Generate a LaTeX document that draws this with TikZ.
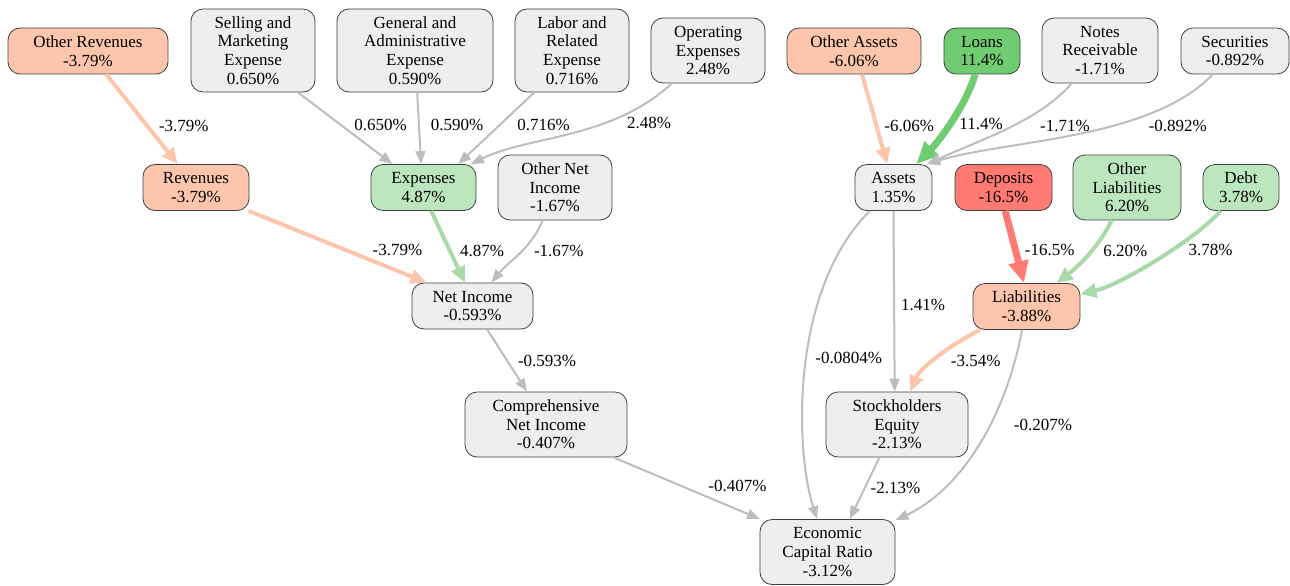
\documentclass[tikz,border=0pt]{standalone}
\usepackage{fontspec}
\setmainfont{Liberation Serif}
\usetikzlibrary{arrows.meta}

\definecolor{neufill}{HTML}{EEEEEE}
\definecolor{dnfill}{HTML}{FDC6AC}
\definecolor{upfill}{HTML}{BCE6BE}
\definecolor{upxfill}{HTML}{70CC70}
\definecolor{dnxfill}{HTML}{FF7A72}
\definecolor{neuline}{HTML}{BDBDBD}
\definecolor{dnline}{HTML}{FDC6AC}
\definecolor{upline}{HTML}{A9D9A9}

\tikzset{
    box/.style={draw=black!75, line width=0.8pt, rounded corners=12pt, align=center,
        inner sep=0pt, font=\fontsize{17}{18.7}\selectfont},
    fneu/.style={fill=neufill}, fdn/.style={fill=dnfill}, fup/.style={fill=upfill},
    fupx/.style={fill=upxfill}, fdnx/.style={fill=dnxfill},
    ln2/.style={minimum height=46pt}, ln3/.style={minimum height=65pt}, ln4/.style={minimum height=83pt},
    pct/.style={font=\fontsize{17}{18.7}\selectfont, inner sep=0pt},
    flowneu/.style={draw=neuline, line width=2pt, -{Triangle[length=13pt,width=10pt]}},
    flowdn/.style={draw=dnline, line width=4pt, -{Triangle[length=16pt,width=14pt]}},
    flowup/.style={draw=upline, line width=4pt, -{Triangle[length=16pt,width=14pt]}},
    flowupx/.style={draw=upxfill, line width=7pt, -{Triangle[length=22pt,width=19pt]}},
    flowdnx/.style={draw=dnxfill, line width=7pt, -{Triangle[length=22pt,width=19pt]}},
}

\begin{document}
\begin{tikzpicture}[x=1pt, y=-1pt]
    \useasboundingbox (0,0) rectangle (1290,586);

    % top row
    \node[box, fdn, ln2, minimum width=160pt] (orev) at (88,51) {Other Revenues\\-3.79\%};
    \node[box, fneu, ln4, minimum width=124pt] (sell) at (253,50.5) {Selling and\\Marketing\\Expense\\0.650\%};
    \node[box, fneu, ln4, minimum width=156pt] (gena) at (415,50.5) {General and\\Administrative\\Expense\\0.590\%};
    \node[box, fneu, ln4, minimum width=114pt] (labr) at (572,50.5) {Labor and\\Related\\Expense\\0.716\%};
    \node[box, fneu, ln3, minimum width=114pt] (opex) at (708,50.5) {Operating\\Expenses\\2.48\%};
    \node[box, fdn, ln2, minimum width=134pt] (oast) at (854,51) {Other Assets\\-6.06\%};
    \node[box, fupx, ln2, minimum width=76pt] (loan) at (982,51) {Loans\\11.4\%};
    \node[box, fneu, ln3, minimum width=116pt] (note) at (1100,50.5) {Notes\\Receivable\\-1.71\%};
    \node[box, fneu, ln2, minimum width=108pt] (secu) at (1235,51) {Securities\\-0.892\%};

    % second row
    \node[box, fdn, ln2, minimum width=106pt] (rev) at (196,187.5) {Revenues\\-3.79\%};
    \node[box, fup, ln2, minimum width=105pt] (exps) at (423.5,187.5) {Expenses\\4.87\%};
    \node[box, fneu, ln3, minimum width=114pt] (oni) at (555,187.5) {Other Net\\Income\\-1.67\%};
    \node[box, fneu, ln2, minimum width=77pt] (ast) at (893.5,187.5) {Assets\\1.35\%};
    \node[box, fdnx, ln2, minimum width=97pt] (dep) at (1003.5,187.5) {Deposits\\-16.5\%};
    \node[box, fup, ln3, minimum width=108pt] (olia) at (1127,187.5) {Other\\Liabilities\\6.20\%};
    \node[box, fup, ln2, minimum width=76pt] (debt) at (1241,187.5) {Debt\\3.78\%};

    % lower rows
    \node[box, fneu, ln2, minimum width=121pt] (ni) at (472.5,306) {Net Income\\-0.593\%};
    \node[box, fdn, ln2, minimum width=107pt] (lia) at (1026.5,306.5) {Liabilities\\-3.88\%};
    \node[box, fneu, ln3, minimum width=162pt] (cni) at (546,424.5) {Comprehensive\\Net Income\\-0.407\%};
    \node[box, fneu, ln3, minimum width=142pt] (seq) at (897,424.5) {Stockholders\\Equity\\-2.13\%};
    \node[box, fneu, ln3, minimum width=135pt] (ecr) at (827.5,552) {Economic\\Capital Ratio\\-3.12\%};

    % income side
    \draw[flowdn] (orev.-52) -- node[pct, pos=0.57, right=10pt] {-3.79\%} (rev.128);
    \draw[flowneu] (sell.-43) -- node[pct, pos=0.46, right=12pt] {0.650\%} (exps.143);
    \draw[flowneu] (gena.-87) -- node[pct, pos=0.46, right=11pt] {0.590\%} (exps.96);
    \draw[flowneu] (labr.-132) -- node[pct, pos=0.46, right=17pt] {0.716\%} (exps.34);
    \draw[flowneu] (opex) .. controls (610,140) and (530,135) .. (exps)
        node[pct, pos=0.33, right=20pt] {2.48\%};
    \draw[flowdn] (rev.-24) -- node[pct, pos=0.54, right=26pt] {-3.79\%} (ni.153);
    \draw[flowup] (exps.-72) -- node[pct, pos=0.56, right=8pt] {4.87\%} (ni.108);
    \draw[flowneu] (oni) .. controls (532,248) and (508,262) .. (ni)
        node[pct, pos=0.45, right=11pt] {-1.67\%};
    \draw[flowneu] (ni.-58) -- node[pct, pos=0.5, right=10pt] {-0.593\%} (cni.120);
    \draw[flowneu] (cni.-26) -- node[pct, pos=0.47, right=25pt] {-0.407\%} (ecr.154);

    % balance side
    \draw[flowdn] (oast.-71) -- node[pct, pos=0.57, right=6pt] {-6.06\%} (ast.105);
    \draw[flowupx] (loan) .. controls (966,105) and (940,140) .. (ast)
        node[pct, pos=0.52, right=6pt] {11.4\%};
    \draw[flowneu] (note) .. controls (1040,120) and (985,138) .. (ast.35)
        node[pct, pos=0.48, right=27pt] {-1.71\%};
    \draw[flowneu] (secu) .. controls (1150,140) and (1005,140) .. (ast.35)
        node[pct, pos=0.38, right=34pt] {-0.892\%};
    \draw[flowneu] (ast) .. controls (790,290) and (795,450) .. (ecr)
        node[pct, pos=0.47, right=8pt] {-0.0804\%};
    \draw[flowneu] (ast.-90) -- node[pct, pos=0.52, right=6pt] {1.41\%} (seq.94);
    \draw[flowdnx] (dep.-86) -- node[pct, pos=0.54, right=6pt] {-16.5\%} (lia.96);
    \draw[flowup] (olia) .. controls (1100,245) and (1080,265) .. (lia)
        node[pct, pos=0.45, right=10pt] {6.20\%};
    \draw[flowup] (debt) .. controls (1195,240) and (1120,285) .. (lia)
        node[pct, pos=0.4, right=15pt] {3.78\%};
    \draw[flowdn] (lia) .. controls (950,345) and (920,368) .. (seq)
        node[pct, pos=0.55, right=15pt] {-3.54\%};
    \draw[flowneu] (lia) .. controls (1005,420) and (960,490) .. (ecr)
        node[pct, pos=0.39, right=23pt] {-0.207\%};
    \draw[flowneu] (seq.-118) -- node[pct, pos=0.5, right=5pt] {-2.13\%} (ecr.56);
\end{tikzpicture}
\end{document}
